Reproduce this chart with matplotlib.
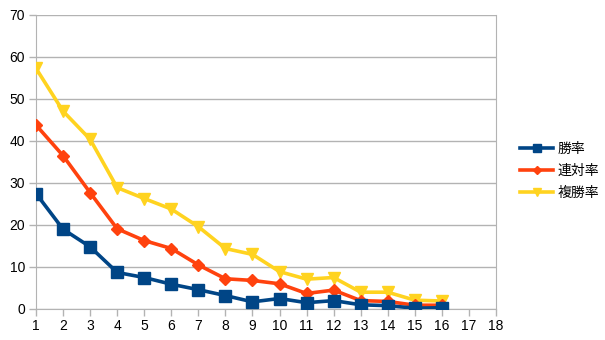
import matplotlib
matplotlib.use("Agg")
import matplotlib.pyplot as plt

plt.rcParams['font.family'] = ['Liberation Sans', 'Noto Sans CJK JP', 'DejaVu Sans']

x = list(range(1, 17))
win = [27.5, 19.0, 14.8, 8.7, 7.5, 5.9, 4.6, 3.2, 1.7, 2.5, 1.5, 2.0, 1.0, 0.8, 0.2, 0.3]
quinella = [43.8, 36.5, 27.7, 19.1, 16.3, 14.4, 10.5, 7.2, 6.8, 6.0, 3.7, 4.5, 2.0, 1.8, 0.9, 0.9]
place = [57.3, 47.1, 40.4, 28.9, 26.3, 23.8, 19.6, 14.4, 13.0, 8.9, 7.1, 7.5, 4.0, 4.0, 2.1, 1.9]
labels = ['勝率', '連対率', '複勝率']

fig = plt.figure(figsize=(6.05, 3.4), dpi=100)
ax = fig.add_axes([36/605, 31/340, 460/605, 294/340])

ax.plot(x, win, color='#004586', lw=2.6, marker='s', ms=8, label=labels[0], zorder=5)
ax.plot(x, quinella, color='#ff420e', lw=2.6, marker='D', ms=6, label=labels[1], zorder=4)
ax.plot(x, place, color='#ffd320', lw=2.6, marker='v', ms=9, label=labels[2], zorder=3)

ax.set_xlim(1, 18)
ax.set_ylim(0, 70)
ax.set_xticks(range(1, 19))
ax.set_yticks(range(0, 71, 10))
ax.yaxis.grid(True, color='#b3b3b3', lw=1)
ax.set_axisbelow(True)
for s in ['left', 'bottom', 'right']:
    ax.spines[s].set_color('#b3b3b3')
ax.spines['top'].set_visible(False)
ax.tick_params(axis='both', colors='#b3b3b3', labelcolor='#000000', labelsize=10, length=5, width=1)
ax.tick_params(axis='x', pad=2)
ax.tick_params(axis='y', pad=3)

leg = ax.legend(loc='center left', bbox_to_anchor=(1.025, 0.47), frameon=False,
                fontsize=10, handlelength=2.4, handletextpad=0.3, labelspacing=0.55,
                markerscale=0.7)

fig.savefig('out.png', dpi=100)
